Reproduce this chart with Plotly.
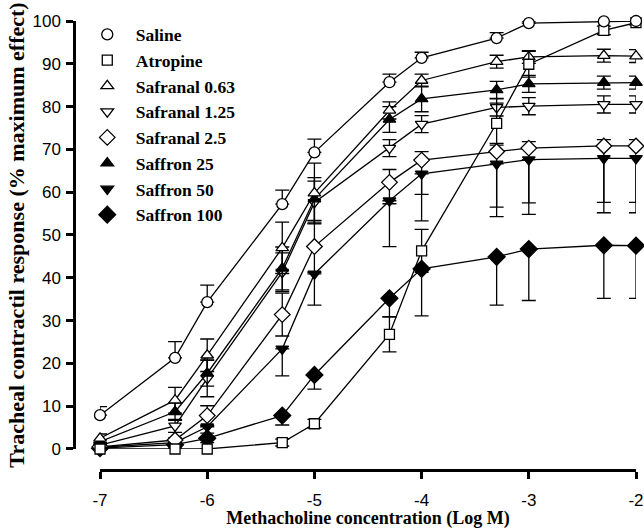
import plotly.graph_objects as go

log_conc = [-7, -6.3, -6, -5.3, -5, -4.3, -4, -3.3, -3, -2.3, -2]

series_names = ["Saline", "Atropine", "Safranal 0.63", "Safranal 1.25",
                "Safranal 2.5", "Saffron 25", "Saffron 50", "Saffron 100"]

saline = [7.9, 21.3, 34.3, 57.2, 69.3, 85.7, 91.4, 96.0, 99.5, 99.9, 100.0]
atropine = [0.0, 0.0, 0.0, 1.5, 5.9, 26.8, 46.3, 76.1, 89.9, 97.8, 99.6]
safranal_063 = [2.5, 11.4, 21.9, 47.0, 59.8, 79.1, 86.1, 90.5, 91.6, 91.9, 91.8]
safranal_125 = [0.9, 5.4, 16.5, 41.3, 57.6, 70.3, 75.9, 79.8, 80.1, 80.5, 80.5]
safranal_25 = [0.5, 2.1, 7.8, 31.4, 47.3, 62.3, 67.5, 69.5, 70.3, 70.8, 70.8]
saffron_25 = [1.7, 8.7, 17.7, 42.2, 58.4, 77.0, 81.8, 83.9, 85.3, 85.6, 85.6]
saffron_50 = [0.4, 1.5, 5.2, 23.4, 40.9, 58.0, 64.3, 66.6, 67.6, 67.9, 67.9]
saffron_100 = [0.2, 1.0, 2.5, 7.8, 17.3, 35.2, 42.1, 44.9, 46.7, 47.6, 47.5]

# SEM (upper / lower)
saline_up = [2.0, 3.8, 4.0, 3.3, 3.1, 1.9, 1.3, 1.3, 0.5, 0.0, 0.0]
saline_dn = [0] * 11
atropine_up = [0.0, 0.0, 0.0, 0.8, 1.0, 4.1, 5.0, 4.7, 3.0, 1.0, 0.5]
atropine_dn = [0.0, 0.0, 0.0, 0.8, 1.0, 4.1, 5.0, 4.7, 3.0, 1.0, 0.5]
safranal_063_err = [1.0, 3.0, 3.8, 6.0, 7.0, 2.0, 1.5, 1.5, 1.5, 1.5, 1.5]
safranal_125_err = [0.5, 1.5, 4.3, 4.5, 5.0, 2.0, 2.0, 2.0, 2.0, 2.0, 2.0]
safranal_25_up = [0.5, 0.5, 2.3, 5.0, 6.0, 3.0, 2.0, 1.5, 1.5, 1.5, 1.5]
safranal_25_dn = [0.5, 0.5, 2.3, 5.0, 6.0, 5.0, 8.0, 13.0, 12.8, 13.2, 13.2]
saffron_25_err = [0.5, 2.0, 3.0, 5.0, 5.0, 3.0, 3.0, 2.0, 2.0, 1.5, 1.5]
saffron_50_dn = [0.4, 1.0, 1.5, 6.3, 7.3, 10.7, 11.0, 12.3, 12.8, 12.7, 12.7]
saffron_100_dn = [0.2, 0.5, 1.0, 2.2, 3.3, 4.3, 11.0, 11.3, 12.0, 12.4, 12.3]

symbols = ["circle-open", "square-open", "triangle-up-open", "triangle-down-open",
           "diamond-open", "triangle-up", "triangle-down", "diamond"]
sizes = [11, 10, 11, 11, 12, 11, 11, 13]

values = [saline, atropine, safranal_063, safranal_125, safranal_25,
          saffron_25, saffron_50, saffron_100]
err_up = [saline_up, atropine_up, safranal_063_err, safranal_125_err, safranal_25_up,
          saffron_25_err, [0] * 11, [0] * 11]
err_dn = [saline_dn, atropine_dn, safranal_063_err, safranal_125_err, safranal_25_dn,
          saffron_25_err, saffron_50_dn, saffron_100_dn]

fig = go.Figure()

order = [7, 6, 4, 3, 5, 2, 1, 0]
for i in order:
    fig.add_trace(go.Scatter(
        x=log_conc, y=values[i], mode="lines+markers", name=series_names[i],
        showlegend=False, cliponaxis=False,
        line=dict(color="black", width=1.3),
        marker=dict(symbol=symbols[i].replace("-open", ""), size=sizes[i],
                    color="white" if "open" in symbols[i] else "black",
                    line=dict(color="black", width=1.3)),
        error_y=dict(type="data", symmetric=False, array=err_up[i], arrayminus=err_dn[i],
                     color="black", thickness=1.3, width=7),
    ))

for i in range(8):
    fig.add_trace(go.Scatter(
        x=[None], y=[None], mode="markers", name=series_names[i],
        marker=dict(symbol=symbols[i].replace("-open", ""), size=sizes[i],
                    color="white" if "open" in symbols[i] else "black",
                    line=dict(color="black", width=1.3)),
    ))

fig.update_layout(
    width=644, height=529,
    margin=dict(l=74, r=8, t=21, b=59, autoexpand=False),
    plot_bgcolor="white", paper_bgcolor="white",
    showlegend=True,
    legend=dict(x=0.0085, y=1.01, xanchor="left", yanchor="top",
                font=dict(family="Liberation Serif", size=17.5, color="black", weight="bold"),
                bgcolor="rgba(0,0,0,0)", tracegroupgap=2, itemwidth=47),
    xaxis=dict(
        domain=[0.0463, 1], range=[-7, -2], anchor="free", position=0, automargin=False,
        tickvals=[-7, -6, -5, -4, -3, -2], ticktext=["-7", "-6", "-5", "-4", "-3", "-2"],
        showline=True, linecolor="black", linewidth=2.5,
        ticks="outside", ticklen=7, tickwidth=2.5, tickcolor="black",
        ticklabelstandoff=7,
        showgrid=False, zeroline=False,
        tickfont=dict(family="Liberation Sans", size=17, color="black"),
        title=dict(text="Methacholine concentration (Log M)", standoff=5,
                   font=dict(family="Liberation Serif", size=18, color="black", weight="bold")),
    ),
    yaxis=dict(
        domain=[0.0468, 1], range=[0, 100], anchor="free", position=0, automargin=False,
        tickvals=list(range(0, 101, 10)),
        showline=True, linecolor="black", linewidth=2.5,
        ticks="outside", ticklen=7, tickwidth=2.5, tickcolor="black",
        ticklabelstandoff=2,
        showgrid=False, zeroline=False,
        tickfont=dict(family="Liberation Sans", size=17, color="black"),
        title=dict(text="Tracheal contractil response (% maximum effect)", standoff=0,
                   font=dict(family="Liberation Serif", size=22, color="black", weight="bold")),
    ),
)

fig.write_html("out.html", config={"displayModeBar": False},
               post_script="document.body.style.margin='0';document.body.style.overflow='hidden';")
